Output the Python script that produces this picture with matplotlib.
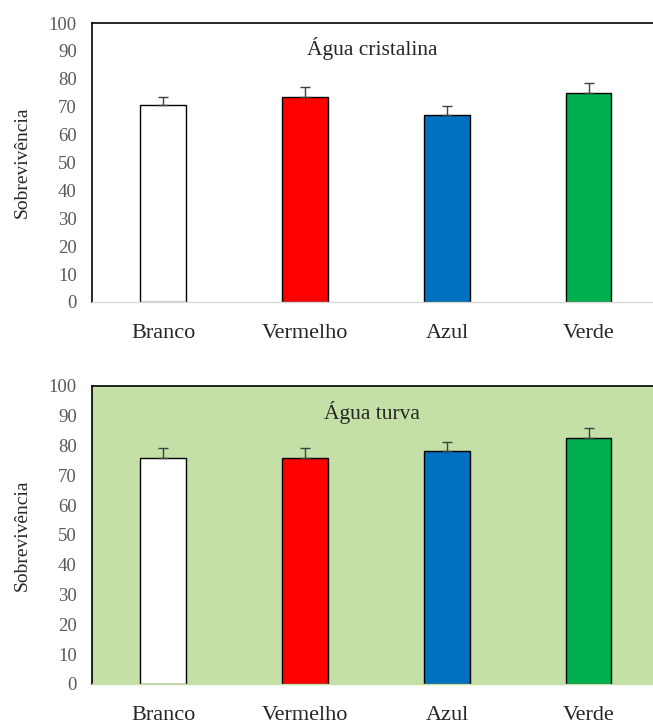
import numpy as np
import matplotlib.pyplot as plt

# survival by light colour, two water conditions
cores = ['Branco', 'Vermelho', 'Azul', 'Verde']
cores_barra = ['#ffffff', '#ff0000', '#0070c0', '#00b050']

cristalina = [70.6, 73.6, 67.1, 74.8]
cristalina_erro = [3.0, 3.4, 3.1, 3.6]

turva = [75.9, 75.8, 78.2, 82.6]
turva_erro = [3.1, 3.2, 2.8, 3.1]

plt.rcParams['font.family'] = ['Liberation Serif', 'DejaVu Serif']


def painel(ax, valores, erros, titulo, fundo, cor_base):
    x = np.arange(len(cores))
    ax.set_facecolor(fundo)
    ax.bar(x, valores, width=0.317, color=cores_barra, edgecolor='black',
           linewidth=1.0, zorder=2)
    ax.errorbar(x, valores, yerr=[np.zeros(len(erros)), erros], fmt='none',
                ecolor='#404040', elinewidth=1.0, capsize=3.5, capthick=1.0,
                zorder=3)
    ax.set_xlim(-0.5, 3.5)
    ax.set_ylim(0, 100)
    ax.set_yticks(np.arange(0, 101, 10))
    ax.set_xticks(x)
    ax.set_xticklabels(cores, fontsize=16, color='#262626')
    ax.tick_params(axis='y', length=0, pad=11, labelsize=13.5, labelcolor='#595959')
    ax.tick_params(axis='x', length=0, pad=16)
    ax.set_ylabel('Sobrevivência', fontsize=14, color='#262626', labelpad=13)
    ax.text(0.493, 0.91, titulo, transform=ax.transAxes, ha='center',
            va='center', fontsize=15.5, color='#262626')
    for lado in ['left', 'top']:
        ax.spines[lado].set_color('#000000')
        ax.spines[lado].set_linewidth(1.2)
    ax.spines['right'].set_visible(False)
    ax.spines['bottom'].set_color(cor_base)
    ax.spines['bottom'].set_linewidth(1.0)


fig = plt.figure(figsize=(6.53, 7.24), dpi=100)
ax1 = fig.add_axes([0.1409, 0.5829, 0.8698, 0.3853])
ax2 = fig.add_axes([0.1409, 0.05525, 0.8698, 0.4120])

painel(ax1, cristalina, cristalina_erro, 'Água cristalina', 'white', '#d9d9d9')
painel(ax2, turva, turva_erro, 'Água turva', '#c5e0a6', '#c5e0a6')

fig.savefig('out.png', dpi=100)
